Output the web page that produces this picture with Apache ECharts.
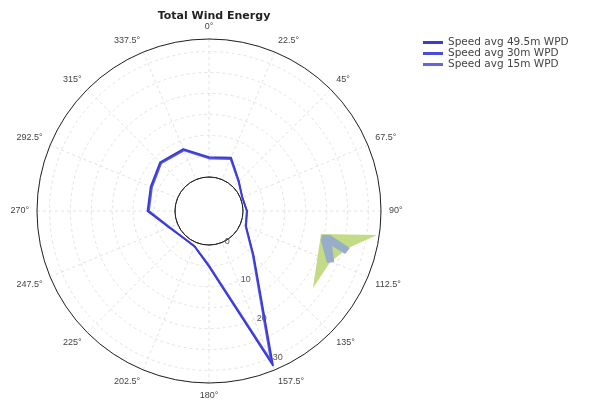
<!DOCTYPE html>
<html>
<head>
<meta charset="utf-8">
<title>Total Wind Energy</title>
<script src="https://cdn.jsdelivr.net/npm/echarts@6/dist/echarts.min.js"></script>
<style>
  html, body { margin: 0; padding: 0; background: #fff; }
  #chartId1 { width: 590px; height: 403px; }
</style>
</head>
<body>
<div id="chartId1"></div>
<script>
// directions (deg, clockwise from north)
var directions = [0, 22.5, 45, 67.5, 90, 112.5, 135, 157.5, 180, 202.5, 225, 247.5, 270, 292.5, 315, 337.5];
var seriesNames = ['Speed avg 49.5m WPD', 'Speed avg 30m WPD', 'Speed avg 15m WPD'];
var wpd49 = [4.8, 5.7, 2.0, 0.5, 1.0, 1.5, 7.0, 32.0, 5.2, 1.0, 0.8, 2.2, 6.6, 7.0, 8.4, 7.9];
var wpd30 = [4.6, 5.5, 1.9, 0.5, 0.9, 1.4, 6.8, 31.2, 5.0, 1.0, 0.8, 2.1, 6.4, 6.8, 8.2, 7.7];
var wpd15 = [4.4, 5.3, 1.8, 0.4, 0.9, 1.3, 6.6, 30.4, 4.8, 0.9, 0.7, 2.0, 6.2, 6.6, 8.0, 7.5];
var radiusTicks = [0, 10, 20, 30];

// the little green / grey-blue patch near 100 deg (radius value, angle)
var greenPatchR = [19.2, 32.5, 26.3, 23.3, 22.8];
var greenPatchA = [101.6, 98.1, 104.9, 112.9, 126.5];
var greyPatchR = [19.5, 21.4, 26.7, 26.0, 22.5, 24.2, 22.7, 19.5];
var greyPatchA = [102.0, 101.2, 104.7, 107.5, 105.9, 112.2, 113.8, 104.5];

// radius axis sits on 157.5 deg, so the angle axis starts there
var START = 157.5;
function ang(a) {
  return a < START ? a + 360 : a;
}

// build closed polar line data starting at 157.5
function closedData(values) {
  var out = [];
  var first = directions.indexOf(START);
  for (var k = 0; k <= directions.length; k++) {
    var i = (first + k) % directions.length;
    var a = ang(directions[i]);
    if (k == directions.length) a = START + 360;
    out.push([values[i], a]);
  }
  return out;
}

function patchSeries(rs, as, color) {
  return {
    type: 'custom',
    coordinateSystem: 'polar',
    silent: true,
    data: [[rs[0], ang(as[0])]],
    renderItem: function(params, api) {
      var pts = [];
      for (var i = 0; i < rs.length; i++) {
        pts.push(api.coord([rs[i], ang(as[i])]));
      }
      return {
        type: 'polygon',
        shape: { points: pts },
        style: { fill: color, stroke: null },
      };
    },
  };
}

var myChart = echarts.init(document.getElementById('chartId1'));
var option = {
  backgroundColor: '#fff',
  animation: false,
  title: {
    text: 'Total Wind Energy',
    left: 209,
    textAlign: 'center',
    top: 6,
    textStyle: { fontFamily: 'DejaVu Sans', fontSize: 11, fontWeight: 'bold', color: '#222' },
  },
  legend: {
    data: seriesNames,
    orient: 'vertical',
    left: 418,
    top: 32,
    icon: 'rect',
    itemWidth: 20,
    itemHeight: 3,
    itemGap: 0,
    textStyle: { fontFamily: 'DejaVu Sans', fontSize: 10.5, lineHeight: 8.5, color: '#444' },
  },
  polar: {
    center: [209, 211],
    radius: [34, 172],
  },
  angleAxis: {
    type: 'value',
    min: START,
    max: START + 360,
    interval: 22.5,
    startAngle: 90 - START,
    clockwise: true,
    axisLine: { lineStyle: { color: '#222', width: 1 } },
    axisTick: { show: false },
    axisLabel: {
      margin: 8,
      fontFamily: 'Liberation Sans',
      fontSize: 9,
      color: '#444',
      formatter: function(v) {
        return (Math.round((v % 360) * 10) / 10) + '°';
      },
    },
    splitLine: { lineStyle: { color: '#e2e2e2', type: [3, 3], width: 1 } },
  },
  radiusAxis: {
    type: 'value',
    min: 0,
    max: 33,
    interval: 5,
    axisLine: { show: false },
    axisTick: { show: false },
    axisLabel: {
      margin: 3,
      fontFamily: 'Liberation Sans',
      fontSize: 9,
      color: '#555',
      formatter: function(v) {
        return radiusTicks.indexOf(v) >= 0 ? String(v) : '';
      },
    },
    splitLine: { lineStyle: { color: '#e4e4e4', type: [3, 3], width: 1 } },
  },
  graphic: [
    {
      type: 'circle',
      shape: { cx: 209, cy: 211, r: 34 },
      style: { fill: '#fff', stroke: '#333', lineWidth: 1 },
      z: 0,
    },
  ],
  series: [
    patchSeries(greenPatchR, greenPatchA, '#c2db84'),
    patchSeries(greyPatchR, greyPatchA, '#98aec8'),
    {
      name: seriesNames[2],
      type: 'line',
      coordinateSystem: 'polar',
      showSymbol: false,
      data: closedData(wpd15),
      itemStyle: { color: '#6464e0' },
      lineStyle: { width: 1.6, color: '#6464e0' },
    },
    {
      name: seriesNames[1],
      type: 'line',
      coordinateSystem: 'polar',
      showSymbol: false,
      data: closedData(wpd30),
      itemStyle: { color: '#4c4cdc' },
      lineStyle: { width: 1.6, color: '#4c4cdc' },
    },
    {
      name: seriesNames[0],
      type: 'line',
      coordinateSystem: 'polar',
      showSymbol: false,
      data: closedData(wpd49),
      itemStyle: { color: '#3a3ad8' },
      lineStyle: { width: 1.6, color: '#3a3ad8' },
    },
  ],
};
myChart.setOption(option);
</script>
</body>
</html>
